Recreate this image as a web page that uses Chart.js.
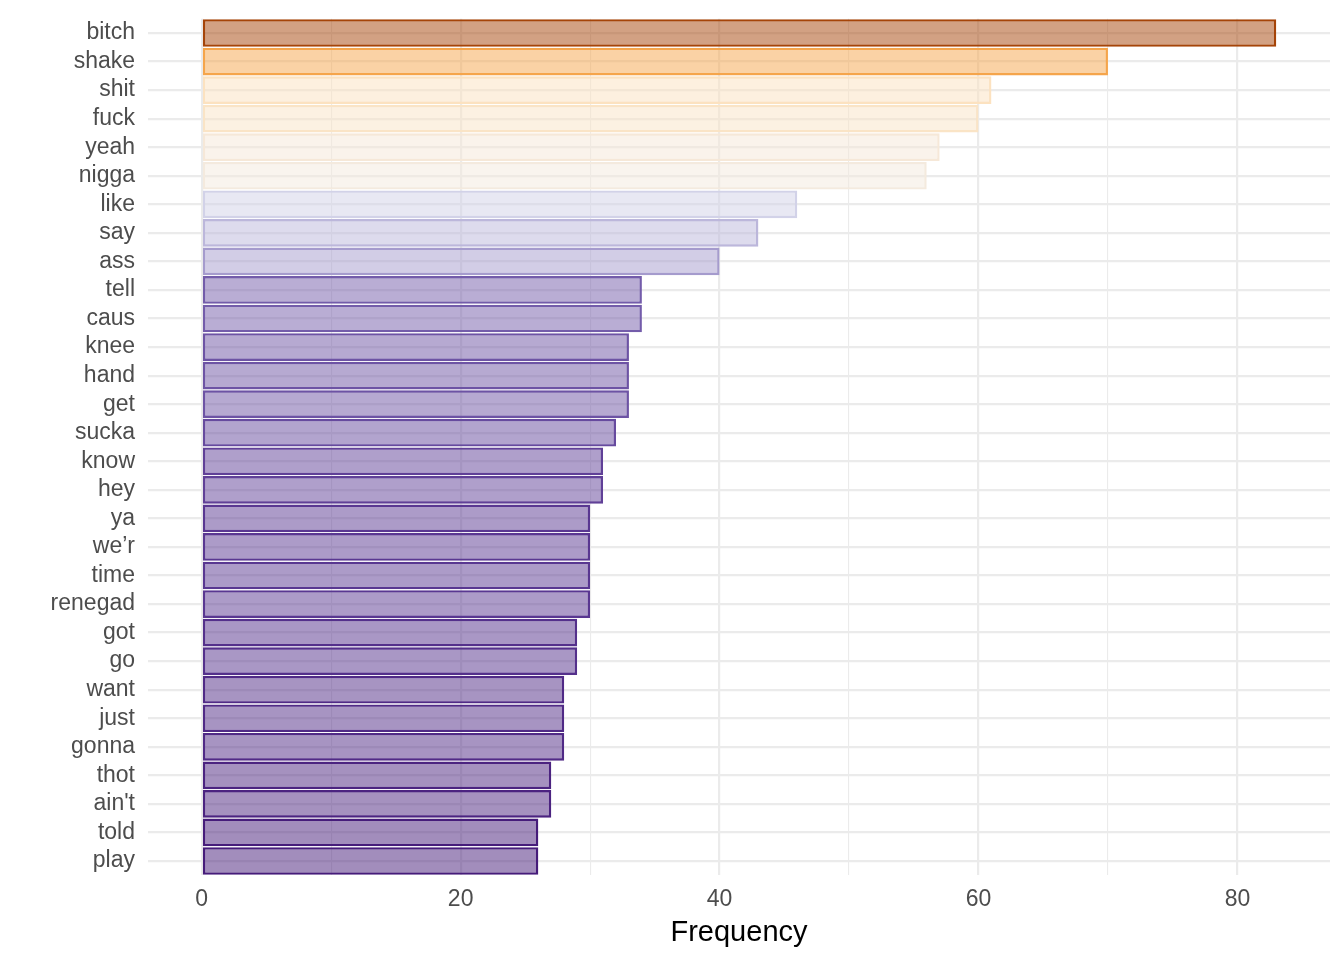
<!DOCTYPE html>
<html>
<head>
<meta charset="utf-8">
<script src="https://cdn.jsdelivr.net/npm/chart.js@4"></script>
<style>
  html, body { margin: 0; padding: 0; background: #fff; }
  #wrap { width: 1344px; height: 960px; }
</style>
</head>
<body>
<div id="wrap"><canvas id="myChart"></canvas></div>
<script>
//========================== DATA ==========================//
var words = ["bitch","shake","shit","fuck","yeah","nigga","like","say","ass","tell",
             "caus","knee","hand","get","sucka","know","hey","ya","we\u2019r","time",
             "renegad","got","go","want","just","gonna","thot","ain't","told","play"];
var freq = [83,70,61,60,57,56,46,43,40,34,
            34,33,33,33,32,31,31,30,30,30,
            30,29,29,28,28,28,27,27,26,26];
var xTicks = [0,10,20,30,40,50,60,70,80];

//========================== COLOURS (purple -> orange gradient) ==========================//
// colour stops along the frequency range, 0 = lowest, 1 = highest
var stopPos = [0, 0.07, 0.14, 0.245, 0.35, 0.526, 0.614, 0.772, 1];
var stopRgb = [[70,28,122],[89,55,145],[115,92,170],[165,155,205],[210,210,232],
               [244,234,222],[252,226,192],[245,165,75],[165,68,8]];
function colourFor(v, alpha){
    var lo = Math.min.apply(null, freq), hi = Math.max.apply(null, freq);
    var t = (v - lo) / (hi - lo);
    var i = 0;
    while(i < stopPos.length - 2 && t > stopPos[i+1]){ i++; }
    var f = (t - stopPos[i]) / (stopPos[i+1] - stopPos[i]);
    var a = stopRgb[i], b = stopRgb[i+1];
    var c = [0,1,2].map(function(k){ return Math.round(a[k] + (b[k]-a[k])*f); });
    return "rgba(" + c[0] + "," + c[1] + "," + c[2] + "," + alpha + ")";
}
var fills = freq.map(function(v){ return colourFor(v, 0.5); });
var borders = freq.map(function(v){ return colourFor(v, 1); });

var fontFam = "'Liberation Sans', Arial, Helvetica, sans-serif";

//========================== CHART ==========================//
new Chart("myChart", {
    type: "bar",
    data: {
        labels: words,
        datasets: [{
            data: freq,
            backgroundColor: fills,
            borderColor: borders,
            borderWidth: 2.4,
            borderSkipped: false,
            barPercentage: 0.97,
            categoryPercentage: 1.0
        }]
    },
    options: {
        indexAxis: "y",
        responsive: true,
        maintainAspectRatio: false,
        animation: false,
        layout: { padding: { left: 0, right: 14, top: 18.7, bottom: 0 } },
        plugins: { legend: { display: false }, tooltip: { enabled: false } },
        scales: {
            x: {
                min: -4.15,
                max: 87.15,
                afterBuildTicks: function(scale){
                    scale.ticks = xTicks.map(function(v){ return { value: v }; });
                },
                afterFit: function(scale){
                    scale.height = 84.7;
                    scale.paddingLeft = 0;
                    scale.paddingRight = 0;
                },
                border: { display: false },
                grid: {
                    drawTicks: false,
                    color: "#ebebeb",
                    lineWidth: function(ctx){
                        return (ctx.tick && ctx.tick.value % 20 === 0) ? 2.2 : 1.1;
                    }
                },
                ticks: {
                    padding: 11,
                    color: "#4d4d4d",
                    font: { family: fontFam, size: 23 },
                    callback: function(v){ return v % 20 === 0 ? v : ""; }
                },
                title: {
                    display: true,
                    text: "Frequency",
                    color: "#000",
                    font: { family: fontFam, size: 29 },
                    padding: { top: 0, bottom: 10 }
                }
            },
            y: {
                afterFit: function(scale){
                    scale.width = 148;
                    scale.paddingTop = 0;
                    scale.paddingBottom = 0;
                },
                border: { display: false },
                grid: {
                    offset: false,
                    drawTicks: false,
                    color: "#ebebeb",
                    lineWidth: 2.2
                },
                ticks: {
                    autoSkip: false,
                    padding: 13,
                    color: "#4d4d4d",
                    font: { family: fontFam, size: 23 }
                }
            }
        }
    }
});
</script>
</body>
</html>
